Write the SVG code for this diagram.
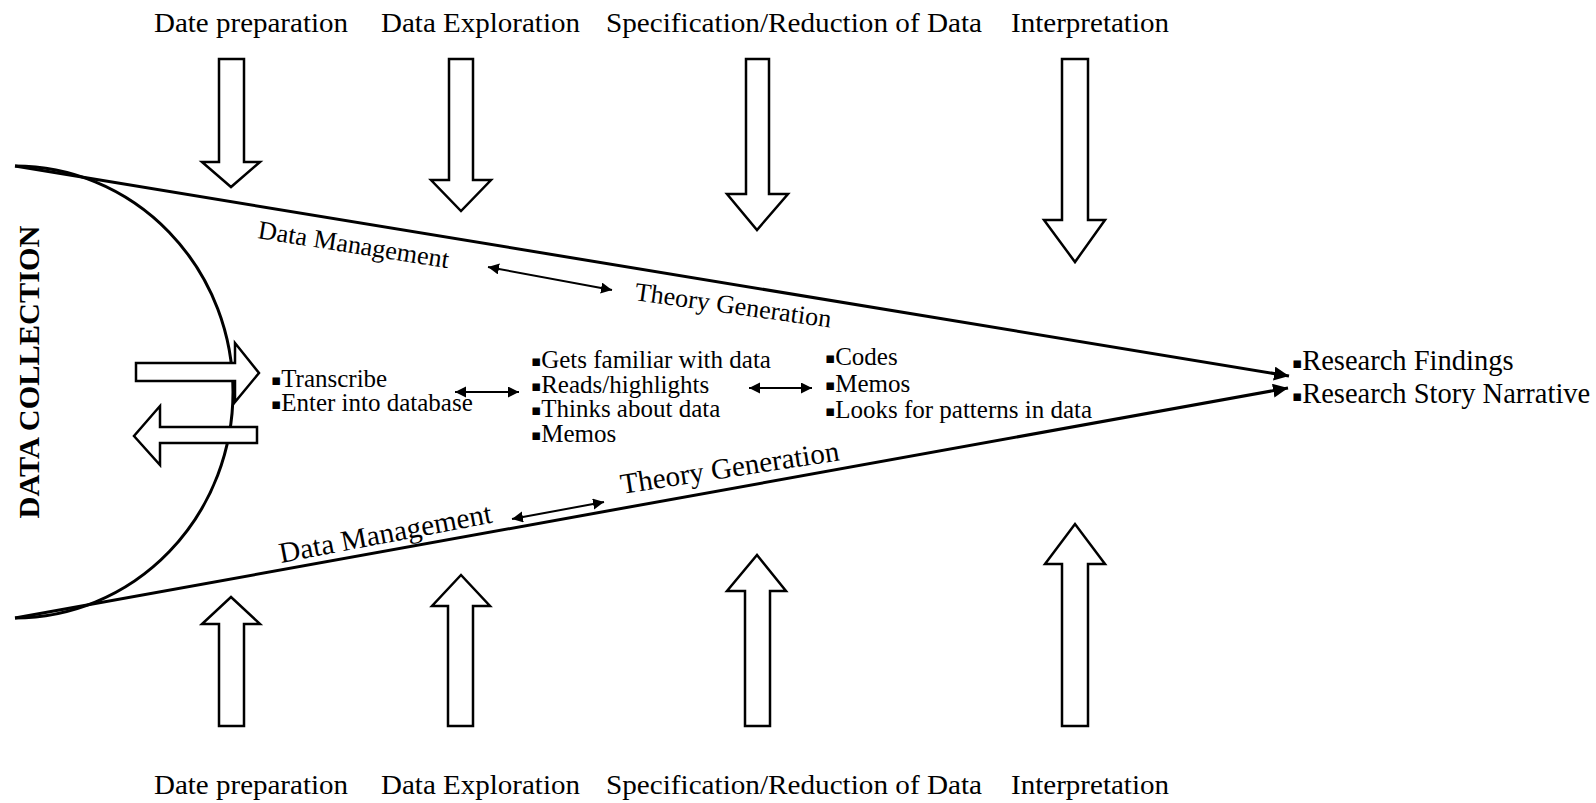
<svg xmlns="http://www.w3.org/2000/svg" width="1596" height="803" viewBox="0 0 1596 803">
<defs>
<style>
text{font-family:"Liberation Serif","Times New Roman",serif;fill:#000}
.lbl{font-size:27px}
.body{font-size:25px}
.big{font-size:28.5px}
.rot{font-size:26px}
.rotb{font-size:29px}
.blk{fill:#fff;stroke:#000;stroke-width:2.5;stroke-linejoin:miter}
.fun{fill:none;stroke:#000;stroke-width:3}
.dbl{fill:none;stroke:#000;stroke-width:2}
.b{font-family:"DejaVu Sans",sans-serif;font-size:15px}
</style>
<marker id="tip" markerUnits="userSpaceOnUse" markerWidth="16" markerHeight="14" refX="15" refY="7" orient="auto">
<path d="M0,0 L15,7 L0,14 z" fill="#000"/>
</marker>
<marker id="dh" markerUnits="userSpaceOnUse" markerWidth="12" markerHeight="12" refX="11" refY="5.5" orient="auto-start-reverse">
<path d="M0,0 L11,5.5 L0,11 z" fill="#000"/>
</marker>
</defs>
<rect width="1596" height="803" fill="#fff"/>

<g id="funnel">
<path class="fun" d="M15,166 A218,226 0 0 1 15,618" stroke-width="2"/>
</g>

<g id="connectors">
<line class="fun" x1="15" y1="166" x2="1289" y2="376" marker-end="url(#tip)"/>
<line class="fun" x1="15" y1="618" x2="1288" y2="388" marker-end="url(#tip)"/>
<line class="dbl" x1="488" y1="267" x2="612" y2="290" marker-start="url(#dh)" marker-end="url(#dh)"/>
<line class="dbl" x1="512" y1="519" x2="604" y2="502" marker-start="url(#dh)" marker-end="url(#dh)"/>
<line class="dbl" x1="455" y1="392" x2="519" y2="392" marker-start="url(#dh)" marker-end="url(#dh)"/>
<line class="dbl" x1="749" y1="388" x2="812" y2="388" marker-start="url(#dh)" marker-end="url(#dh)"/>
</g>

<g id="data-collection">
<text transform="translate(39,372) rotate(-90)" text-anchor="middle" font-weight="bold" font-size="30" textLength="293" lengthAdjust="spacingAndGlyphs">DATA COLLECTION</text>
<polygon class="blk" points="136,363 235,363 235,343 259,373 235,402 235,381 136,381"/>
<polygon class="blk" points="257,427 160,427 160,406 134,436 160,465 160,443 257,443"/>
</g>

<g id="top-date-preparation">
<text class="lbl" x="154" y="32" textLength="194" lengthAdjust="spacingAndGlyphs">Date preparation</text>
<polygon class="blk" points="219,59 244,59 244,162 260,162 231,187 202,162 219,162"/>
</g>
<g id="top-data-exploration">
<text class="lbl" x="381" y="32" textLength="199" lengthAdjust="spacingAndGlyphs">Data Exploration</text>
<polygon class="blk" points="449,59 473,59 473,180 491,180 461,211 431,180 449,180"/>
</g>
<g id="top-specification">
<text class="lbl" x="606" y="32" textLength="376" lengthAdjust="spacingAndGlyphs">Specification/Reduction of Data</text>
<polygon class="blk" points="746,59 769,59 769,194 788,194 757,230 727,194 746,194"/>
</g>
<g id="top-interpretation">
<text class="lbl" x="1011" y="32" textLength="158" lengthAdjust="spacingAndGlyphs">Interpretation</text>
<polygon class="blk" points="1062,59 1088,59 1088,220 1105,220 1075,262 1044,220 1062,220"/>
</g>

<g id="bottom-date-preparation">
<text class="lbl" x="154" y="794" textLength="194" lengthAdjust="spacingAndGlyphs">Date preparation</text>
<polygon class="blk" points="219,726 244,726 244,624 260,624 231,597 202,624 219,624"/>
</g>
<g id="bottom-data-exploration">
<text class="lbl" x="381" y="794" textLength="199" lengthAdjust="spacingAndGlyphs">Data Exploration</text>
<polygon class="blk" points="448,726 473,726 473,606 490,606 461,575 432,606 448,606"/>
</g>
<g id="bottom-specification">
<text class="lbl" x="606" y="794" textLength="376" lengthAdjust="spacingAndGlyphs">Specification/Reduction of Data</text>
<polygon class="blk" points="745,726 770,726 770,591 786,591 757,555 727,591 745,591"/>
</g>
<g id="bottom-interpretation">
<text class="lbl" x="1011" y="794" textLength="158" lengthAdjust="spacingAndGlyphs">Interpretation</text>
<polygon class="blk" points="1062,726 1088,726 1088,564 1105,564 1075,524 1045,564 1062,564"/>
</g>

<g id="phase-labels">
<text class="rot" transform="translate(257,238) rotate(9)" textLength="193" lengthAdjust="spacingAndGlyphs">Data Management</text>
<text class="rot" transform="translate(634,300) rotate(8)" textLength="198" lengthAdjust="spacingAndGlyphs">Theory Generation</text>
<text class="rotb" transform="translate(281,563) rotate(-10.8)" textLength="216" lengthAdjust="spacingAndGlyphs">Data Management</text>
<text class="rotb" transform="translate(622,494) rotate(-8.8)" textLength="221" lengthAdjust="spacingAndGlyphs">Theory Generation</text>
</g>

<g id="management-tasks">
<text class="body" x="271" y="387"><tspan class="b" dy="-2">▪</tspan><tspan dy="2">Transcribe</tspan></text>
<text class="body" x="271" y="411"><tspan class="b" dy="-2">▪</tspan><tspan dy="2">Enter into database</tspan></text>
</g>

<g id="exploration-tasks">
<text class="body" x="531" y="368"><tspan class="b" dy="-2">▪</tspan><tspan dy="2">Gets familiar with data</tspan></text>
<text class="body" x="531" y="393"><tspan class="b" dy="-2">▪</tspan><tspan dy="2">Reads/highlights</tspan></text>
<text class="body" x="531" y="417"><tspan class="b" dy="-2">▪</tspan><tspan dy="2">Thinks about data</tspan></text>
<text class="body" x="531" y="442"><tspan class="b" dy="-2">▪</tspan><tspan dy="2">Memos</tspan></text>
</g>

<g id="reduction-tasks">
<text class="body" x="825" y="365"><tspan class="b" dy="-2">▪</tspan><tspan dy="2">Codes</tspan></text>
<text class="body" x="825" y="392"><tspan class="b" dy="-2">▪</tspan><tspan dy="2">Memos</tspan></text>
<text class="body" x="825" y="418"><tspan class="b" dy="-2">▪</tspan><tspan dy="2">Looks for patterns in data</tspan></text>
</g>

<g id="research-output">
<text class="big" x="1292" y="370"><tspan class="b" dy="-2">▪</tspan><tspan dy="2">Research Findings</tspan></text>
<text class="big" x="1292" y="403"><tspan class="b" dy="-2">▪</tspan><tspan dy="2">Research Story Narrative</tspan></text>
</g>
</svg>
